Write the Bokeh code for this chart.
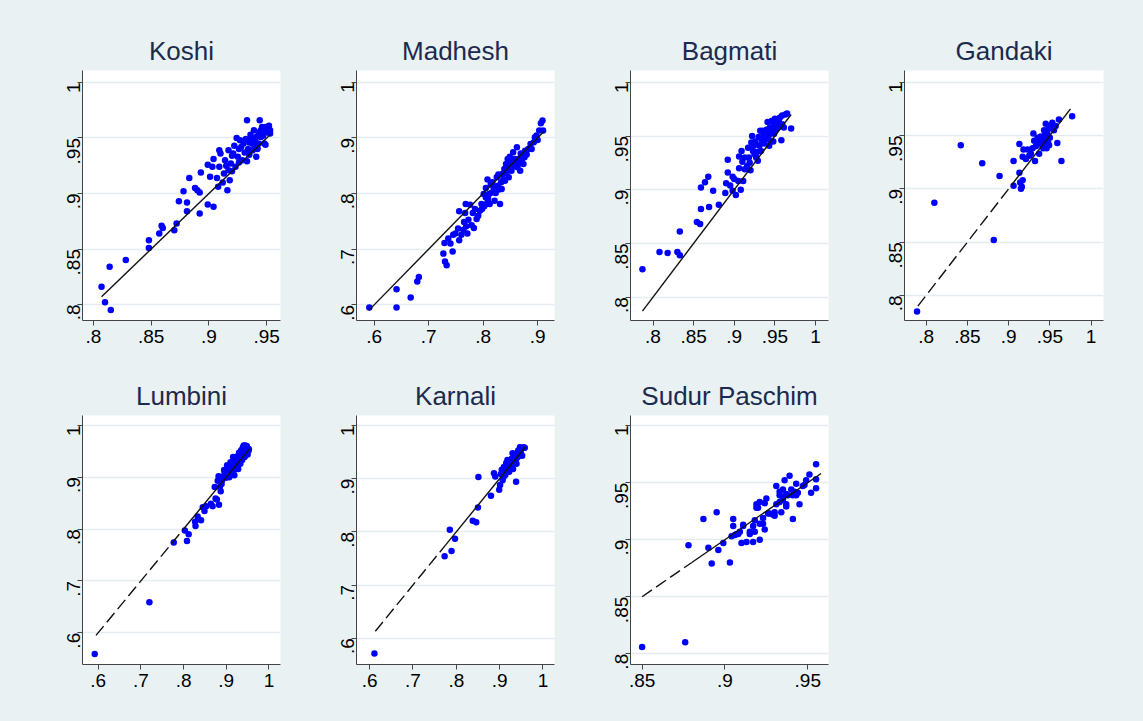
import math
from bokeh.plotting import figure
from bokeh.layouts import row, column
from bokeh.models import Range1d, FixedTicker
from bokeh.embed import file_html
from bokeh.resources import INLINE

# ---------------- data ----------------
titles = ["Koshi", "Madhesh", "Bagmati", "Gandaki", "Lumbini", "Karnali", "Sudur Paschim"]

koshi_x = [.807,.810,.815,.814,.828,.848,.848,.857,.859,.860,.870,.872,.874,.878,.881,.881,.883,.888,.890,.892,
           .892,.893,.899,.899,.904,.901,.903,.904,.907,.908,.909,.909,.910,.912,.913,.914,.916,.917,.917,.918,
           .919,.920,.922,.923,.924,.925,.926,.927,.929,.930,.932,.933,.933,.934,.935,.936,.938,.938,.939,.941,
           .941,.942,.943,.943,.944,.945,.945,.946,.948,.948,.949,.951,.952,.953,.953,
           .915,.921,.928,.931,.937,.940,.944,.947,.950,.920,.926,.935,.949,.942,.939]
koshi_y = [.816,.802,.795,.834,.840,.851,.858,.864,.871,.869,.867,.873,.893,.902,.892,.884,.914,.905,.903,.901,
           .882,.919,.926,.890,.888,.915,.924,.931,.914,.906,.924,.939,.936,.910,.918,.930,.903,.921,.939,.912,
           .927,.934,.943,.924,.950,.933,.940,.948,.930,.945,.949,.929,.966,.940,.946,.953,.939,.945,.957,.951,
           .933,.940,.955,.945,.966,.957,.951,.960,.945,.957,.960,.955,.961,.957,.954,
           .925,.936,.942,.937,.950,.947,.953,.952,.958,.920,.928,.935,.944,.941,.944]

madhesh_x = [.591,.641,.641,.667,.679,.682,.727,.729,.730,.733,.736,.740,.744,.745,.749,.754,.756,.756,.760,.764,
             .765,.767,.768,.769,.771,.773,.776,.779,.781,.783,.785,.788,.791,.794,.797,.798,.801,.802,.805,.805,
             .806,.808,.809,.811,.812,.814,.816,.817,.819,.821,.823,.825,.827,.828,.829,.831,.833,.834,.835,.837,
             .839,.840,.842,.843,.845,.846,.847,.849,.851,.852,.854,.855,.857,.858,.860,.862,.863,.865,.866,.868,
             .869,.871,.874,.876,.877,.880,.883,.887,.889,.893,.895,.898,.900,.903,.906,.909,.910]
madhesh_y = [.595,.595,.628,.613,.642,.650,.692,.711,.678,.671,.719,.710,.696,.726,.728,.737,.716,.768,.726,.735,
             .749,.765,.781,.741,.728,.753,.780,.743,.765,.738,.772,.754,.760,.769,.781,.772,.799,.777,.793,.810,
             .781,.825,.790,.799,.781,.817,.802,.820,.811,.787,.801,.829,.814,.834,.807,.781,.820,.808,.835,.826,
             .844,.823,.853,.837,.862,.847,.829,.866,.853,.841,.856,.874,.849,.862,.856,.883,.847,.862,.854,.841,
             .872,.860,.853,.865,.877,.870,.880,.889,.880,.892,.901,.904,.896,.913,.926,.931,.913]

bagmati_x = [.787,.808,.818,.830,.833,.833,.854,.858,.859,.859,.864,.868,.869,.874,.881,.889,.890,.892,.892,.895,
             .898,.898,.900,.902,.905,.906,.906,.908,.909,.911,.913,.913,.916,.917,.919,.920,.921,.922,.923,.924,
             .926,.927,.928,.929,.930,.931,.932,.933,.934,.935,.937,.938,.940,.941,.942,.944,.945,.946,.947,.948,
             .949,.950,.951,.952,.953,.954,.956,.958,.959,.959,.961,.963,.965,.970,.948,.943,
             .936,.939,.944,.950,.955,.957,.925,.918,.910]
bagmati_y = [.826,.842,.841,.842,.839,.861,.870,.868,.882,.902,.907,.912,.884,.899,.886,.897,.906,.916,.928,.904,
             .912,.899,.910,.895,.908,.931,.920,.900,.936,.908,.930,.919,.922,.939,.925,.918,.944,.950,.936,.941,
             .945,.930,.935,.927,.949,.941,.955,.936,.945,.955,.943,.952,.956,.963,.949,.958,.945,.964,.955,.959,
             .952,.966,.956,.961,.964,.958,.967,.946,.961,.969,.958,.970,.971,.957,.945,.941,
             .950,.947,.952,.960,.963,.960,.933,.930,.926]

gandaki_x = [.789,.810,.842,.868,.882,.889,.906,.906,.913,.913,.914,.915,.916,.917,.917,.918,.921,.923,.925,.927,
             .929,.930,.931,.932,.933,.935,.937,.938,.939,.941,.943,.944,.945,.946,.947,.948,.949,.950,.952,.953,
             .955,.957,.959,.961,.964,.977,.949,.945,
             .936,.940,.951,.947,.942,.944]
gandaki_y = [.785,.887,.941,.924,.852,.912,.926,.903,.942,.915,.906,.900,.902,.908,.930,.937,.928,.937,.931,.933,
             .938,.952,.945,.926,.940,.948,.933,.943,.949,.940,.955,.945,.961,.938,.952,.943,.957,.948,.960,.962,
             .955,.959,.943,.965,.926,.968,.941,.944,
             .944,.946,.958,.955,.938,.950]

lumbini_x = [.592,.720,.777,.803,.808,.812,.827,.828,.833,.841,.845,.849,.853,.864,.868,.873,.875,.878,.880,.882,
             .883,.885,.887,.889,.890,.893,.895,.896,.899,.902,.904,.907,.908,.910,.912,.914,.916,.918,.919,.922,
             .923,.925,.926,.928,.930,.931,.933,.935,.936,.937,.939,.941,.943,.944,.946,.948,.950,.952,.953,.948,
             .941,.920,.927,.932,.938,.945,.934,.940,.947,.951]
lumbini_y = [.559,.659,.774,.797,.777,.790,.814,.806,.824,.817,.842,.835,.844,.849,.844,.881,.859,.857,.893,.902,
             .847,.881,.873,.887,.894,.900,.914,.907,.899,.923,.913,.900,.920,.929,.907,.918,.939,.926,.904,.933,
             .918,.940,.929,.916,.947,.935,.926,.952,.940,.933,.958,.947,.939,.961,.951,.958,.944,.951,.954,.960,
             .961,.915,.922,.930,.942,.945,.937,.950,.953,.955]

karnali_x = [.611,.773,.785,.789,.797,.838,.846,.850,.851,.880,.887,.890,.899,.901,.903,.905,.907,.909,.910,.912,
             .913,.915,.916,.918,.920,.922,.924,.925,.927,.928,.930,.931,.933,.935,.938,.939,.941,.943,.945,.947,
             .949,.950,.952,.955,.958,.931,.923,
             .926,.934,.937,.942,.946,.919,.929,.944]
karnali_y = [.571,.754,.804,.764,.787,.821,.818,.846,.903,.868,.910,.904,.879,.888,.909,.917,.897,.903,.922,.911,
             .907,.929,.917,.935,.924,.913,.931,.921,.937,.925,.948,.918,.934,.943,.894,.928,.940,.953,.943,.959,
             .948,.956,.943,.959,.958,.937,.924,
             .930,.940,.936,.946,.951,.920,.932,.949]

sudur_x = [.850,.876,.878,.887,.890,.892,.895,.896,.899,.903,.904,.905,.905,.906,.907,.908,.909,.910,.911,.911,
           .913,.915,.915,.917,.917,.918,.918,.919,.919,.920,.921,.921,.921,.923,.923,.924,.924,.925,.926,.927,
           .929,.930,.930,.931,.931,.933,.933,.933,.934,.935,.935,.935,.936,.937,.937,.937,.938,.939,.940,.941,
           .941,.942,.943,.943,.944,.945,.947,.948,.949,.951,.952,.955,.955,.955]
sudur_y = [.806,.810,.895,.918,.893,.879,.924,.891,.897,.880,.903,.918,.912,.904,.905,.905,.907,.897,.913,.912,
           .898,.905,.907,.898,.912,.917,.907,.931,.928,.928,.900,.933,.914,.914,.919,.909,.932,.936,.923,.923,
           .922,.924,.921,.947,.931,.939,.942,.933,.924,.935,.944,.937,.952,.931,.940,.929,.939,.956,.944,.939,
           .918,.942,.949,.939,.941,.931,.947,.948,.952,.957,.941,.953,.945,.966]

xs_all = [koshi_x, madhesh_x, bagmati_x, gandaki_x, lumbini_x, karnali_x, sudur_x]
ys_all = [koshi_y, madhesh_y, bagmati_y, gandaki_y, lumbini_y, karnali_y, sudur_y]

# 45-degree reference line: dashed start, solid start, end (None = no dashed part)
line_dash_lo  = [None, None, None, .790, .595, .613, .850]
line_solid_lo = [.807, .590, .787, .905, .800, .775, .880]
line_hi       = [.953, .912, .970, .975, .956, .960, .958]

xticks_all = [[.8, .85, .9, .95], [.6, .7, .8, .9], [.8, .85, .9, .95, 1], [.8, .85, .9, .95, 1],
              [.6, .7, .8, .9, 1], [.6, .7, .8, .9, 1], [.85, .9, .95]]
yticks_all = [[.8, .85, .9, .95, 1], [.6, .7, .8, .9, 1], [.8, .85, .9, .95, 1], [.8, .85, .9, .95, 1],
              [.6, .7, .8, .9, 1], [.6, .7, .8, .9, 1], [.8, .85, .9, .95, 1]]
xranges = [(0.7905, 0.962), (0.5675, 0.931), (0.7723, 1.016), (0.7738, 1.015),
           (0.5634, 1.027), (0.5696, 1.0267), (0.843, 0.9625)]
yranges = [(0.7856, 1.0108), (0.5718, 1.021), (0.7782, 1.011), (0.7765, 1.011),
           (0.5388, 1.019), (0.5505, 1.0188), (0.7906, 1.0088)]

# ---------------- style ----------------
BG = "#e9f1f3"
GRID = "#e4ecef"
TITLE_COLOR = "#1c2a4e"
FONT = "Liberation Sans"


def stata_label(v):
    s = f"{v:g}"
    return s[1:] if s.startswith("0.") else s


def panel(i, left, top, frame_h, bottom, right, frame_w=198):
    p = figure(frame_width=frame_w, frame_height=frame_h,
               x_range=Range1d(*xranges[i]), y_range=Range1d(*yranges[i]),
               output_backend="svg", toolbar_location=None,
               min_border_left=left, min_border_right=right,
               min_border_top=top, min_border_bottom=bottom)
    p.background_fill_color = "white"
    p.border_fill_color = BG
    p.outline_line_color = None
    p.title.text = titles[i]
    p.title.align = "center"
    p.title.text_font = FONT
    p.title.text_font_size = "26px"
    p.title.text_font_style = "normal"
    p.title.text_color = TITLE_COLOR

    p.xaxis.ticker = FixedTicker(ticks=xticks_all[i])
    p.yaxis.ticker = FixedTicker(ticks=yticks_all[i])
    p.xaxis.major_label_overrides = {t: stata_label(t) for t in xticks_all[i]}
    p.yaxis.major_label_overrides = {t: stata_label(t) for t in yticks_all[i]}
    p.yaxis.major_label_orientation = math.pi / 2
    for ax in (p.xaxis, p.yaxis):
        ax.axis_line_color = "#444444"
        ax.axis_line_width = 1
        ax.major_tick_line_color = "#444444"
        ax.major_tick_out = 5
        ax.major_tick_in = 0
        ax.minor_tick_line_color = None
        ax.major_label_text_font = FONT
        ax.major_label_text_font_size = "19px"
        ax.major_label_text_color = "#000000"
        ax.major_label_standoff = 4
    p.xgrid.visible = False
    p.ygrid.ticker = FixedTicker(ticks=yticks_all[i])
    p.ygrid.grid_line_color = GRID
    p.ygrid.grid_line_width = 1.5

    p.scatter(xs_all[i], ys_all[i], size=6.5, marker="circle",
              fill_color="#0000ff", line_color=None)
    lo, hi = line_solid_lo[i], line_hi[i]
    p.line([lo, hi], [lo, hi], line_color="#111111", line_width=1.4)
    if line_dash_lo[i] is not None:
        d = line_dash_lo[i]
        p.line([d, lo], [d, lo], line_color="#111111", line_width=1.4, line_dash="12 5")
    return p


# row 1: total height 353 (70 + 250 + 33); row 2: 368 (62 + 249 + 57)
row1 = [panel(0, 82, 70, 250, 33, 2), panel(1, 74, 70, 250, 33, 2), panel(2, 74, 70, 250, 33, 2),
        panel(3, 74, 70, 250, 33, 40, frame_w=199)]
row2 = [panel(4, 82, 62, 249, 57, 2), panel(5, 74, 62, 249, 57, 2), panel(6, 74, 62, 249, 57, 2)]

blank = figure(width=313, height=368, output_backend="svg", toolbar_location=None,
               x_range=Range1d(0, 1), y_range=Range1d(0, 1), min_border=0)
blank.axis.visible = False
blank.grid.visible = False
blank.outline_line_color = None
blank.background_fill_color = BG
blank.border_fill_color = BG
row2.append(blank)

layout = column(row(*row1, spacing=0, styles={"background-color": BG}),
                row(*row2, spacing=0, styles={"background-color": BG}),
                spacing=0, styles={"background-color": BG})

open("out.html", "w").write(file_html(layout, INLINE))
